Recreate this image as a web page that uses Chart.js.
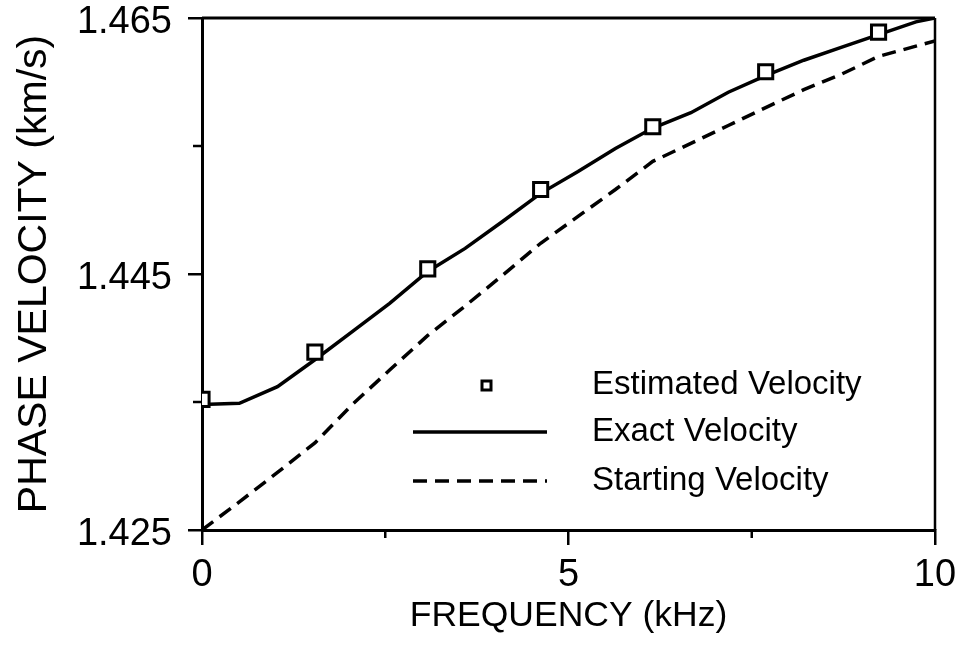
<!DOCTYPE html>
<html>
<head>
<meta charset="utf-8">
<script src="https://cdn.jsdelivr.net/npm/chart.js@4.4.1/dist/chart.umd.min.js"></script>
<style>
  html, body { margin: 0; padding: 0; background: #fff; }
  #wrap { width: 963px; height: 647px; }
</style>
</head>
<body>
<div id="wrap"><canvas id="c"></canvas></div>
<script>
// frequency grid (kHz) for the two curves
const freqGrid = [0, 0.51, 1.03, 1.54, 2.05, 2.56, 3.08, 3.59, 4.10, 4.62, 5.13,
                  5.64, 6.15, 6.67, 7.18, 7.69, 8.21, 8.72, 9.23, 9.74, 10];
// phase velocity (km/s)
const exactVelocity = [1.4348, 1.4349, 1.4362, 1.4383, 1.4405, 1.4427, 1.4452,
                       1.4470, 1.4491, 1.4513, 1.4530, 1.4548, 1.4564, 1.4576,
                       1.4592, 1.4605, 1.4617, 1.4627, 1.4637, 1.4647, 1.4650];
const startingVelocity = [1.4250, 1.4272, 1.4295, 1.4318, 1.4348, 1.4375, 1.4402,
                          1.4425, 1.4449, 1.4474, 1.4495, 1.4516, 1.4538, 1.4552,
                          1.4566, 1.4580, 1.4594, 1.4606, 1.4620, 1.4628, 1.4632];
// estimated points
const estFreq = [0, 1.54, 3.08, 4.62, 6.15, 7.69, 9.23];
const estVelocity = [1.4352, 1.4389, 1.4454, 1.4516, 1.4565, 1.4608, 1.4639];

const xTickValues = [0, 5, 10];
const xTickLabels = ['0', '5', '10'];
const xMinorTicks = [2.5, 7.5];
const yTickValues = [1.425, 1.445, 1.465];
const yTickLabels = ['1.425', '1.445', '1.465'];
const yMinorTicks = [1.435, 1.455];

const FONT = '"Liberation Sans", Arial, Helvetica, sans-serif';

function toPoints(xs, ys) {
  return xs.map((x, i) => ({ x: x, y: ys[i] }));
}

// box round the plot, minor ticks, and the legend inside the chart area
const framePlugin = {
  id: 'frame',
  afterDatasetsDraw(chart) {
    const { ctx, chartArea: a } = chart;
    const sx = chart.scales.x, sy = chart.scales.y;
    ctx.save();
    ctx.strokeStyle = '#000';
    ctx.lineWidth = 3;
    ctx.beginPath();
    ctx.moveTo(a.left, a.top);
    ctx.lineTo(a.right, a.top);
    ctx.stroke();
    ctx.lineWidth = 2.5;
    ctx.beginPath();
    ctx.moveTo(a.right, a.top);
    ctx.lineTo(a.right, a.bottom);
    ctx.stroke();

    // minor ticks
    ctx.lineWidth = 2.5;
    xMinorTicks.forEach(v => {
      const px = sx.getPixelForValue(v);
      ctx.beginPath();
      ctx.moveTo(px, a.bottom);
      ctx.lineTo(px, a.bottom + 8);
      ctx.stroke();
    });
    yMinorTicks.forEach(v => {
      const py = sy.getPixelForValue(v);
      ctx.beginPath();
      ctx.moveTo(a.left, py);
      ctx.lineTo(a.left - 9, py);
      ctx.stroke();
    });

    // legend
    const ds = chart.data.datasets;
    const rows = [385, 432, 481];
    const lineX0 = 413, lineX1 = 547, textX = 592;
    ctx.font = '33px ' + FONT;
    ctx.textBaseline = 'middle';
    ds.forEach((d, i) => {
      const y = rows[i];
      if (d.showLine === false) {
        ctx.lineWidth = 3;
        ctx.strokeStyle = '#000';
        ctx.fillStyle = '#fff';
        ctx.fillRect(482, y - 4, 9, 9);
        ctx.strokeRect(482, y - 4, 9, 9);
      } else {
        ctx.lineWidth = d.borderWidth;
        ctx.strokeStyle = d.borderColor;
        ctx.setLineDash(d.borderDash || []);
        ctx.beginPath();
        ctx.moveTo(lineX0, y);
        ctx.lineTo(lineX1, y);
        ctx.stroke();
        ctx.setLineDash([]);
      }
      ctx.fillStyle = '#000';
      ctx.fillText(d.label, textX, y);
    });
    ctx.restore();
  }
};

new Chart(document.getElementById('c'), {
  type: 'scatter',
  data: {
    datasets: [
      {
        label: 'Estimated Velocity',
        data: toPoints(estFreq, estVelocity),
        showLine: false,
        pointStyle: 'rect',
        pointRadius: 10,
        pointBorderWidth: 3,
        pointBorderColor: '#000',
        pointBackgroundColor: '#fff'
      },
      {
        label: 'Exact Velocity',
        data: toPoints(freqGrid, exactVelocity),
        showLine: true,
        borderColor: '#000',
        borderWidth: 3.5,
        pointRadius: 0,
        tension: 0
      },
      {
        label: 'Starting Velocity',
        data: toPoints(freqGrid, startingVelocity),
        showLine: true,
        borderColor: '#000',
        borderWidth: 3.5,
        borderDash: [14, 8],
        pointRadius: 0,
        tension: 0
      }
    ]
  },
  options: {
    responsive: true,
    maintainAspectRatio: false,
    animation: false,
    layout: { padding: { left: 0, top: 18, right: 28, bottom: 0 } },
    plugins: {
      legend: { display: false },
      tooltip: { enabled: false }
    },
    scales: {
      x: {
        type: 'linear',
        min: 0,
        max: 10,
        afterBuildTicks: s => { s.ticks = xTickValues.map(v => ({ value: v })); },
        afterFit: s => { s.height = 117; s.paddingLeft = 0; s.paddingRight = 0; },
        border: { display: true, color: '#000', width: 3 },
        grid: { drawOnChartArea: false, drawTicks: true, tickLength: 15, color: '#000', lineWidth: 2.5 },
        ticks: {
          color: '#000',
          font: { family: FONT, size: 38, lineHeight: 1.0 },
          padding: 12,
          maxRotation: 0,
          autoSkip: false,
          callback: (v) => xTickLabels[xTickValues.indexOf(v)] ?? ''
        },
        title: {
          display: true,
          text: 'FREQUENCY (kHz)',
          color: '#000',
          font: { family: FONT, size: 35.5 },
          padding: { top: 0, bottom: 9 }
        }
      },
      y: {
        type: 'linear',
        min: 1.425,
        max: 1.465,
        afterBuildTicks: s => { s.ticks = yTickValues.map(v => ({ value: v })); },
        afterFit: s => { s.width = 202; s.paddingTop = 0; s.paddingBottom = 0; },
        border: { display: true, color: '#000', width: 3 },
        grid: { drawOnChartArea: false, drawTicks: true, tickLength: 14, color: '#000', lineWidth: 2.5 },
        ticks: {
          color: '#000',
          font: { family: FONT, size: 38, lineHeight: 0.9 },
          padding: 16,
          labelOffset: 5,
          autoSkip: false,
          callback: (v) => {
            const i = yTickValues.findIndex(t => Math.abs(t - v) < 1e-6);
            return i >= 0 ? yTickLabels[i] : '';
          }
        },
        title: {
          display: true,
          text: 'PHASE VELOCITY (km/s)',
          color: '#000',
          font: { family: FONT, size: 41 },
          padding: { top: 10, bottom: 0 }
        }
      }
    }
  },
  plugins: [framePlugin]
});
</script>
</body>
</html>
